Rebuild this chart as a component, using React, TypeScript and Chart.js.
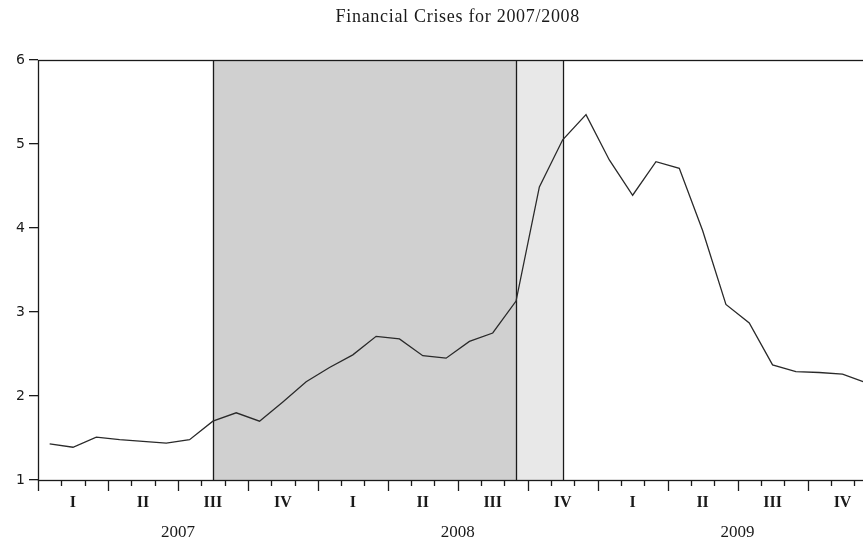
import React, { useEffect, useRef } from 'react';
import { Chart, registerables } from 'chart.js';

Chart.register(...registerables);

const years = ['2007', '2008', '2009'];
const monthNames = ['Jan', 'Feb', 'Mar', 'Apr', 'May', 'Jun', 'Jul', 'Aug', 'Sep', 'Oct', 'Nov', 'Dec'];
const months = years.flatMap((y) => monthNames.map((m) => `${m} ${y}`));
const quarterLabels = ['I', 'II', 'III', 'IV'];

const rate = [
  1.43, 1.39, 1.51, 1.48, 1.46, 1.44, 1.48, 1.70, 1.80, 1.70, 1.93, 2.17,
  2.34, 2.49, 2.71, 2.68, 2.48, 2.45, 2.65, 2.75, 3.13, 4.49, 5.05, 5.35,
  4.81, 4.39, 4.79, 4.71, 3.97, 3.09, 2.87, 2.37, 2.29, 2.28, 2.26, 2.16,
];

const crisisShade = ['Aug 2007', 'Sep 2008'];
const lehmanShade = ['Sep 2008', 'Nov 2008'];
const yMin = 1;
const yMax = 6;
const chartTitle = 'Financial Crises for 2007/2008';

const INK = '#1a1a1a';

const decor = {
  id: 'decor',
  beforeDatasetsDraw(chart: any) {
    const { ctx, chartArea: ca } = chart;
    const x = chart.scales.x;
    const px = (label: string) => x.getPixelForValue(months.indexOf(label));
    ctx.save();
    const shade = (range: string[], color: string) => {
      const a = px(range[0]);
      const b = px(range[1]);
      ctx.fillStyle = color;
      ctx.fillRect(a, ca.top, b - a, ca.bottom - ca.top);
    };
    shade(crisisShade, '#d0d0d0');
    shade(lehmanShade, '#e8e8e8');
    ctx.strokeStyle = INK;
    ctx.lineWidth = 1.3;
    const bounds = [crisisShade[0], crisisShade[1], lehmanShade[1]];
    bounds.forEach((b) => {
      const p = Math.round(px(b)) + 0.5;
      ctx.beginPath();
      ctx.moveTo(p, ca.top);
      ctx.lineTo(p, ca.bottom);
      ctx.stroke();
    });
    ctx.strokeRect(Math.round(ca.left) + 0.5, Math.round(ca.top) + 0.5, ca.right - ca.left, ca.bottom - ca.top);
    ctx.restore();
  },
  afterDraw(chart: any) {
    const { ctx, chartArea: ca } = chart;
    const x = chart.scales.x;
    ctx.save();
    ctx.strokeStyle = INK;
    ctx.lineWidth = 1.3;
    for (let m = 0; m <= months.length; m++) {
      const p = Math.round(x.getPixelForValue(m - 0.5)) + 0.5;
      const len = m % 3 === 0 ? 11 : 6;
      ctx.beginPath();
      ctx.moveTo(p, ca.bottom);
      ctx.lineTo(p, ca.bottom + len);
      ctx.stroke();
    }
    ctx.fillStyle = INK;
    ctx.textAlign = 'center';
    ctx.textBaseline = 'middle';
    ctx.font = 'bold 16px "Liberation Serif"';
    for (let q = 0; q < months.length / 3; q++) {
      ctx.fillText(quarterLabels[q % 4], x.getPixelForValue(q * 3 + 1), 503);
    }
    ctx.font = '17px "Liberation Serif"';
    years.forEach((y, i) => {
      ctx.fillText(y, x.getPixelForValue(i * 12 + 5.5), 533);
    });
    ctx.font = '18px "Liberation Serif"';
    try {
      (ctx as any).letterSpacing = '0.7px';
    } catch (e) {}
    ctx.fillText(chartTitle, (ca.left + ca.right) / 2, 17);
    ctx.restore();
  },
};

export default function App() {
  const ref = useRef<HTMLCanvasElement | null>(null);
  useEffect(() => {
    if (!ref.current) return;
    const chart = new Chart(ref.current, {
      type: 'line',
      data: {
        labels: months,
        datasets: [
          {
            data: rate,
            borderColor: '#2a2a2a',
            borderWidth: 1.3,
            pointRadius: 0,
            tension: 0,
            fill: false,
          },
        ],
      },
      options: {
        animation: false,
        responsive: false,
        events: [],
        layout: { padding: { top: 60, right: 22.5, bottom: 0, left: 0 } },
        plugins: { legend: { display: false }, tooltip: { enabled: false }, title: { display: false } },
        scales: {
          x: {
            type: 'category',
            offset: true,
            ticks: { display: false },
            grid: { display: false },
            border: { display: false },
            afterFit: (s: any) => {
              s.height = 62;
            },
          },
          y: {
            min: yMin,
            max: yMax,
            ticks: {
              stepSize: 1,
              padding: 4,
              color: INK,
              font: { family: '"DejaVu Sans"', size: 14 },
            },
            grid: { drawOnChartArea: false, tickLength: 9, color: INK, lineWidth: 1.3 },
            border: { display: false },
            afterFit: (s: any) => {
              s.width = 38;
            },
          },
        },
      },
      plugins: [decor],
    });
    return () => chart.destroy();
  }, []);
  return (
    <div
      style={{
        position: 'fixed',
        left: 0,
        top: 0,
        width: 863,
        height: 542,
        overflow: 'hidden',
        background: '#fff',
      }}
    >
      <canvas ref={ref} width={900} height={542} style={{ display: 'block' }} />
    </div>
  );
}
